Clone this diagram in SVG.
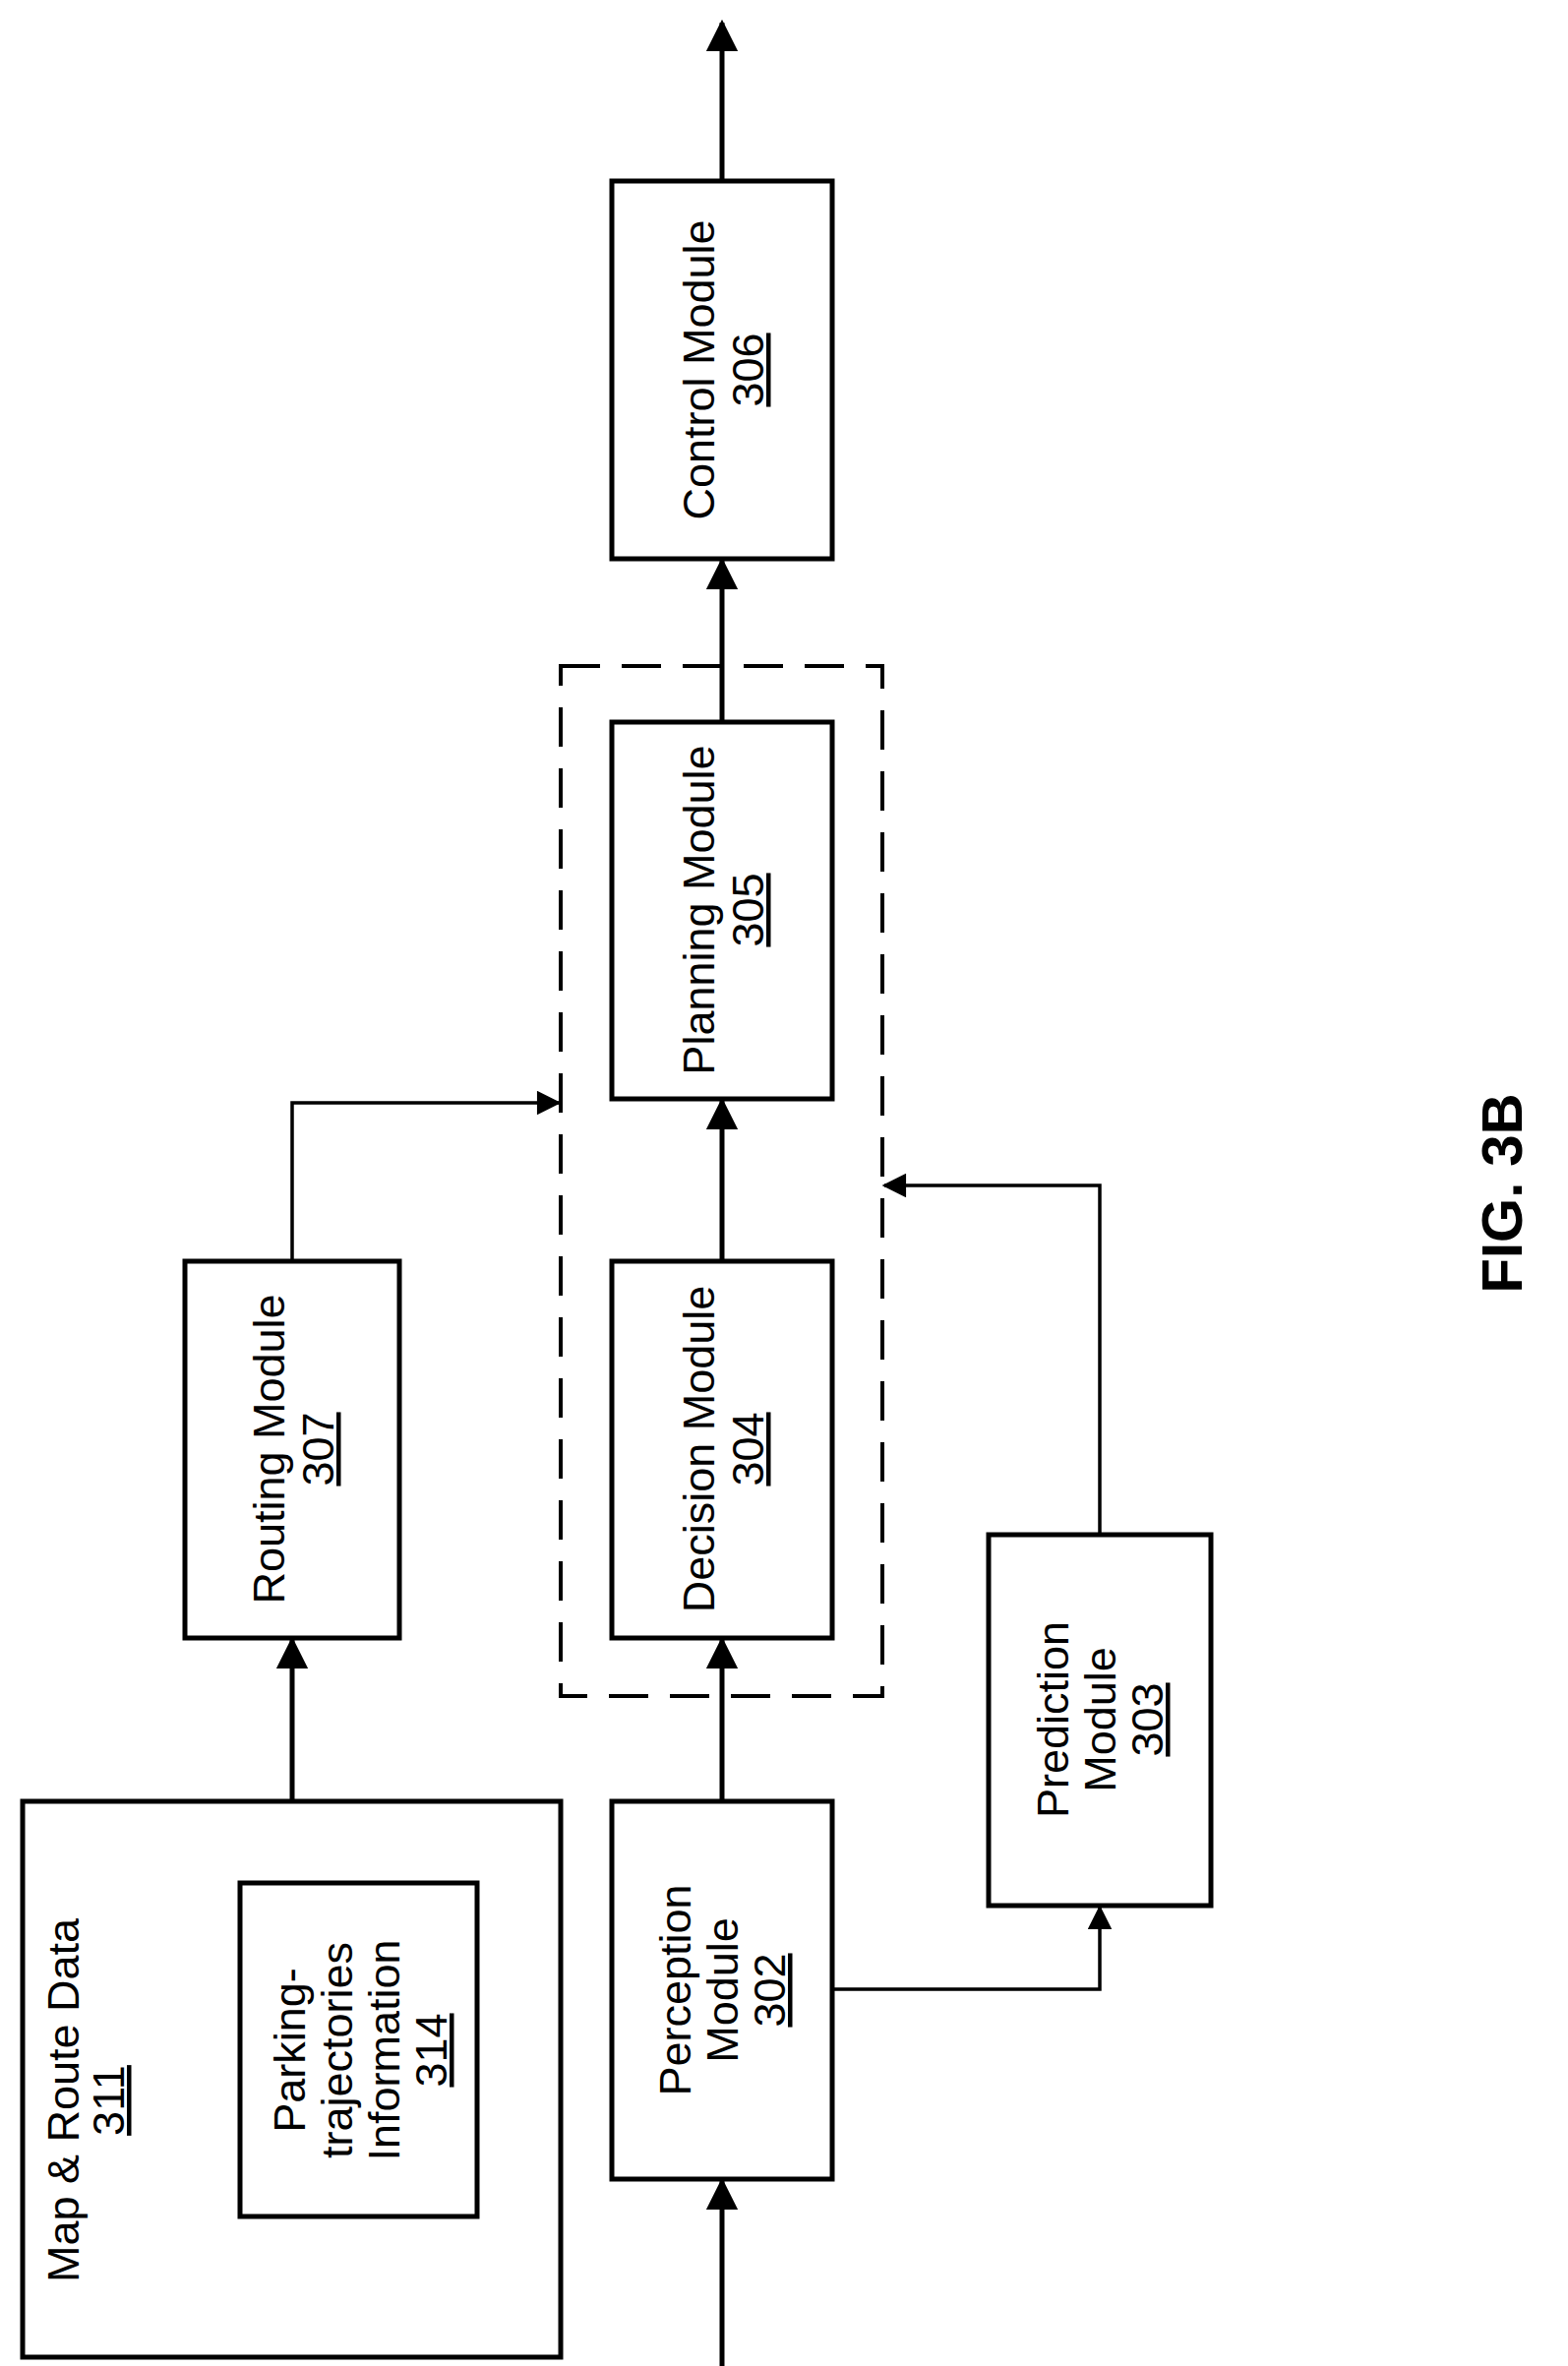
<svg xmlns="http://www.w3.org/2000/svg" width="1594" height="2405" viewBox="0 0 1594 2405">
<style>
.box{fill:#fff;stroke:#000;stroke-width:5}
.ln{fill:none;stroke:#000;stroke-width:5}
.thin{fill:none;stroke:#000;stroke-width:3.5}
.t{font-family:"Liberation Sans",Arial,sans-serif;font-size:45px;fill:#000;text-anchor:middle}
.u{text-decoration:underline}
</style>
<defs>
<marker id="a" viewBox="0 0 10 10" refX="9" refY="5" markerWidth="6.5" markerHeight="6.5" markerUnits="strokeWidth" orient="auto"><path d="M0,0 L10,5 L0,10 z" fill="#000"/></marker>
<marker id="b" viewBox="0 0 10 10" refX="9" refY="5" markerWidth="8" markerHeight="7" markerUnits="strokeWidth" orient="auto"><path d="M0,0 L10,5 L0,10 z" fill="#000"/></marker>
</defs>
<rect x="570" y="677" width="327" height="1047" fill="none" stroke="#000" stroke-width="4" stroke-dasharray="40,22"/>
<g id="connectors">
<line class="ln" x1="734" y1="184" x2="734" y2="23" marker-end="url(#a)"/>
<line class="ln" x1="734" y1="734" x2="734" y2="570" marker-end="url(#a)"/>
<line class="ln" x1="734" y1="1282" x2="734" y2="1119" marker-end="url(#a)"/>
<line class="ln" x1="734" y1="1831" x2="734" y2="1667" marker-end="url(#a)"/>
<line class="ln" x1="734" y1="2405" x2="734" y2="2217" marker-end="url(#a)"/>
<line class="ln" x1="297" y1="1831" x2="297" y2="1667" marker-end="url(#a)"/>
<polyline class="thin" points="297,1282 297,1121 568,1121" marker-end="url(#b)"/>
<polyline class="thin" points="846,2022 1118,2022 1118,1939" marker-end="url(#b)"/>
<polyline class="thin" points="1118,1560 1118,1205 899,1205" marker-end="url(#b)"/>
</g>
<g id="control"><rect class="box" x="622" y="184" width="224" height="384"/>
<text class="t" transform="translate(734,376) rotate(-90)"><tspan x="0" y="-8">Control Module</tspan><tspan class="u" x="0" y="42">306</tspan></text></g>
<g id="planning"><rect class="box" x="622" y="734" width="224" height="383"/>
<text class="t" transform="translate(734,925) rotate(-90)"><tspan x="0" y="-8">Planning Module</tspan><tspan class="u" x="0" y="42">305</tspan></text></g>
<g id="decision"><rect class="box" x="622" y="1282" width="224" height="383"/>
<text class="t" transform="translate(734,1473) rotate(-90)"><tspan x="0" y="-8">Decision Module</tspan><tspan class="u" x="0" y="42">304</tspan></text></g>
<g id="perception"><rect class="box" x="622" y="1831" width="224" height="384"/>
<text class="t" transform="translate(734,2023) rotate(-90)"><tspan x="0" y="-32">Perception</tspan><tspan x="0" y="16">Module</tspan><tspan class="u" x="0" y="64">302</tspan></text></g>
<g id="routing"><rect class="box" x="188" y="1282" width="218" height="383"/>
<text class="t" transform="translate(297,1473) rotate(-90)"><tspan x="0" y="-8">Routing Module</tspan><tspan class="u" x="0" y="42">307</tspan></text></g>
<g id="prediction"><rect class="box" x="1005" y="1560" width="226" height="377"/>
<text class="t" transform="translate(1118,1748) rotate(-90)"><tspan x="0" y="-32">Prediction</tspan><tspan x="0" y="16">Module</tspan><tspan class="u" x="0" y="64">303</tspan></text></g>
<g id="map"><rect class="box" x="23" y="1831" width="547" height="565"/>
<text class="t" transform="translate(80,2135) rotate(-90)"><tspan x="0" y="0">Map &amp; Route Data</tspan><tspan class="u" x="0" y="46">311</tspan></text></g>
<g id="parking"><rect class="box" x="244" y="1914" width="241" height="339"/>
<text class="t" transform="translate(364,2084) rotate(-90)"><tspan x="0" y="-54">Parking-</tspan><tspan x="0" y="-6">trajectories</tspan><tspan x="0" y="42">Information</tspan><tspan class="u" x="0" y="90">314</tspan></text></g>
<text class="t" style="font-weight:bold;font-size:58px" transform="translate(1547,1213) rotate(-90)">FIG. 3B</text>
</svg>
